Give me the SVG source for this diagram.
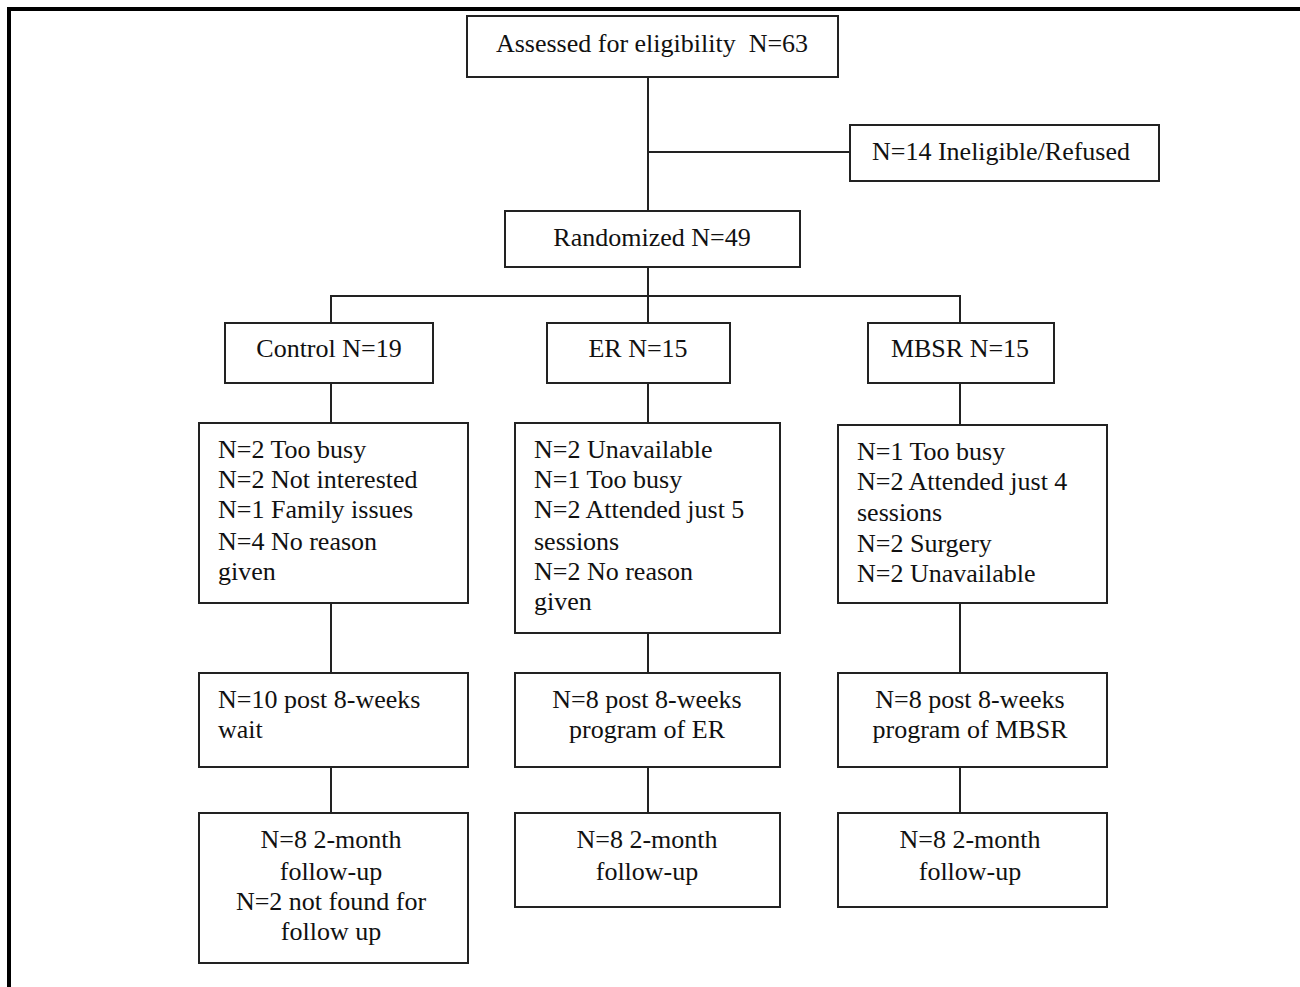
<svg xmlns="http://www.w3.org/2000/svg" width="1300" height="987" viewBox="0 0 1300 987">
<style>
.box{fill:#fff;stroke:#222;stroke-width:2}
.t{font-family:"Liberation Serif","Times New Roman",serif;font-size:26px;fill:#111}
.c{text-anchor:middle}
.ln{stroke:#222;stroke-width:2;fill:none}
</style>
<rect width="1300" height="987" fill="#fff"/>
<path d="M9 987 V9 H1300" fill="none" stroke="#000" stroke-width="4"/>
<g id="connectors" class="ln">
<path d="M648 77 V211"/>
<path d="M648 152 H850"/>
<path d="M648 267 V323"/>
<path d="M331 323 V296 H960 V323"/>
<path d="M331 383 V423"/>
<path d="M648 383 V423"/>
<path d="M960 383 V425"/>
<path d="M331 603 V673"/>
<path d="M648 633 V673"/>
<path d="M960 603 V673"/>
<path d="M331 767 V813"/>
<path d="M648 767 V813"/>
<path d="M960 767 V813"/>
</g>
<g id="assessed"><rect class="box" x="467" y="16" width="371" height="61"/><text class="t c" x="652" y="52" xml:space="preserve">Assessed for eligibility  N=63</text></g>
<g id="ineligible"><rect class="box" x="850" y="125" width="309" height="56"/><text class="t c" x="1001" y="160">N=14 Ineligible/Refused</text></g>
<g id="randomized"><rect class="box" x="505" y="211" width="295" height="56"/><text class="t c" x="652" y="246">Randomized N=49</text></g>
<g id="control"><rect class="box" x="225" y="323" width="208" height="60"/><text class="t c" x="329" y="357">Control N=19</text></g>
<g id="er"><rect class="box" x="547" y="323" width="183" height="60"/><text class="t c" x="638" y="357">ER N=15</text></g>
<g id="mbsr"><rect class="box" x="868" y="323" width="186" height="60"/><text class="t c" x="960" y="357">MBSR N=15</text></g>
<g id="control-reasons"><rect class="box" x="199" y="423" width="269" height="180"/>
<text class="t" x="218" y="458">N=2 Too busy</text>
<text class="t" x="218" y="488">N=2 Not interested</text>
<text class="t" x="218" y="518">N=1 Family issues</text>
<text class="t" x="218" y="550">N=4 No reason</text>
<text class="t" x="218" y="580">given</text></g>
<g id="er-reasons"><rect class="box" x="515" y="423" width="265" height="210"/>
<text class="t" x="534" y="458">N=2 Unavailable</text>
<text class="t" x="534" y="488">N=1 Too busy</text>
<text class="t" x="534" y="518">N=2 Attended just 5</text>
<text class="t" x="534" y="550">sessions</text>
<text class="t" x="534" y="580">N=2 No reason</text>
<text class="t" x="534" y="610">given</text></g>
<g id="mbsr-reasons"><rect class="box" x="838" y="425" width="269" height="178"/>
<text class="t" x="857" y="460">N=1 Too busy</text>
<text class="t" x="857" y="490">N=2 Attended just 4</text>
<text class="t" x="857" y="521">sessions</text>
<text class="t" x="857" y="552">N=2 Surgery</text>
<text class="t" x="857" y="582">N=2 Unavailable</text></g>
<g id="control-post"><rect class="box" x="199" y="673" width="269" height="94"/>
<text class="t" x="218" y="708">N=10 post 8-weeks</text>
<text class="t" x="218" y="738">wait</text></g>
<g id="er-post"><rect class="box" x="515" y="673" width="265" height="94"/>
<text class="t c" x="647" y="708">N=8 post 8-weeks</text>
<text class="t c" x="647" y="738">program of ER</text></g>
<g id="mbsr-post"><rect class="box" x="838" y="673" width="269" height="94"/>
<text class="t c" x="970" y="708">N=8 post 8-weeks</text>
<text class="t c" x="970" y="738">program of MBSR</text></g>
<g id="control-follow"><rect class="box" x="199" y="813" width="269" height="150"/>
<text class="t c" x="331" y="848">N=8 2-month</text>
<text class="t c" x="331" y="880">follow-up</text>
<text class="t c" x="331" y="910">N=2 not found for</text>
<text class="t c" x="331" y="940">follow up</text></g>
<g id="er-follow"><rect class="box" x="515" y="813" width="265" height="94"/>
<text class="t c" x="647" y="848">N=8 2-month</text>
<text class="t c" x="647" y="880">follow-up</text></g>
<g id="mbsr-follow"><rect class="box" x="838" y="813" width="269" height="94"/>
<text class="t c" x="970" y="848">N=8 2-month</text>
<text class="t c" x="970" y="880">follow-up</text></g>
</svg>
